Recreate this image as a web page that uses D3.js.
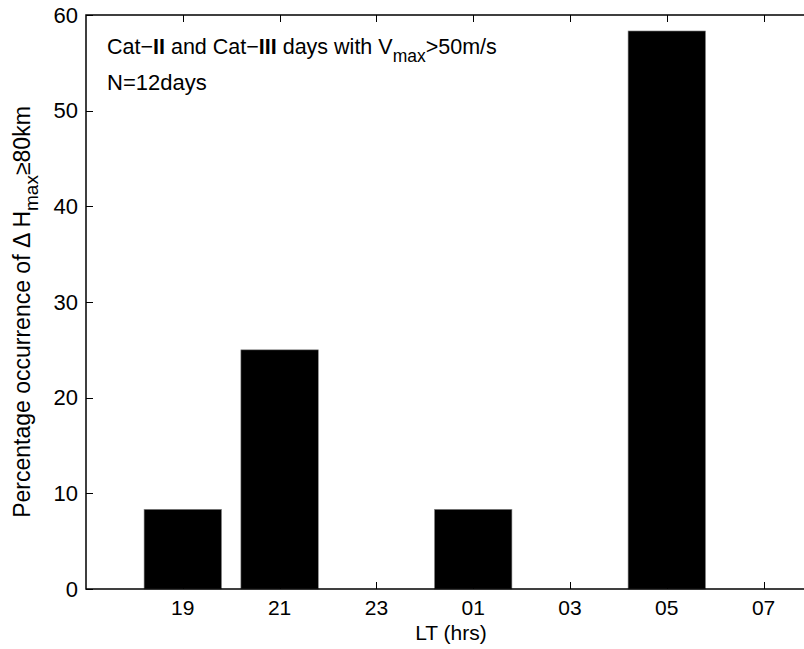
<!DOCTYPE html>
<html>
<head>
<meta charset="utf-8">
<script src="https://cdn.jsdelivr.net/npm/d3@7"></script>
<style>
body { margin: 0; background: #fff; }
svg { display: block; font-family: 'Liberation Sans', Arial, sans-serif; }
</style>
</head>
<body>
<svg id="chart" width="804" height="649"></svg>
<script>
// hours (LT) and percentage occurrence
var hours = ['19', '21', '23', '01', '03', '05', '07'];
var percent = [8.33, 25, 0, 8.33, 0, 58.33, 0];
var yTicks = [0, 10, 20, 30, 40, 50, 60];

var svg = d3.select('#chart'),
    axLeft = 86, axTop = 15, axBottom = 589,
    step = 96.8,
    axRight = axLeft + step * (hours.length + 1);

var x = d3.scaleLinear()
    .domain([0, hours.length + 1])
    .range([axLeft, axRight]);

var y = d3.scaleLinear()
    .domain([0, 60])
    .range([axBottom, axTop]);

var barW = step * 0.8;

svg.append('g')
    .selectAll('rect')
    .data(percent)
    .enter().append('rect')
    .attr('x', function(d, i) { return x(i + 1) - barW / 2; })
    .attr('y', function(d) { return y(d); })
    .attr('width', barW)
    .attr('height', function(d) { return axBottom - y(d); })
    .attr('fill', '#000')
    .attr('stroke', '#888')
    .attr('stroke-width', 0.6);

// box
svg.append('rect')
    .attr('x', axLeft)
    .attr('y', axTop)
    .attr('width', axRight - axLeft)
    .attr('height', axBottom - axTop)
    .attr('fill', 'none')
    .attr('stroke', '#000')
    .attr('stroke-width', 1.5);

// x ticks (bottom and top, inward)
var xt = svg.append('g');
hours.forEach(function(h, i) {
    var px = Math.round(x(i + 1)) + 0.5;
    xt.append('line').attr('x1', px).attr('x2', px).attr('y1', axBottom).attr('y2', axBottom - 7)
        .attr('stroke', '#000');
    xt.append('line').attr('x1', px).attr('x2', px).attr('y1', axTop).attr('y2', axTop + 7)
        .attr('stroke', '#000');
    xt.append('text')
        .attr('x', x(i + 1))
        .attr('y', axBottom + 26)
        .attr('text-anchor', 'middle')
        .attr('font-size', 21)
        .text(h);
});

// y ticks
var yt = svg.append('g');
yTicks.forEach(function(t) {
    var py = Math.round(y(t)) + 0.5;
    yt.append('line').attr('x1', axLeft).attr('x2', axLeft + 7).attr('y1', py).attr('y2', py)
        .attr('stroke', '#000');
    yt.append('text')
        .attr('x', axLeft - 8)
        .attr('y', y(t))
        .attr('dy', '0.35em')
        .attr('text-anchor', 'end')
        .attr('font-size', 22)
        .text(t);
});

// axis labels
svg.append('text')
    .attr('x', 451)
    .attr('y', 640)
    .attr('text-anchor', 'middle')
    .attr('font-size', 21)
    .text('LT (hrs)');

var yl = svg.append('text')
    .attr('transform', 'translate(30,312) rotate(-90)')
    .attr('text-anchor', 'middle')
    .attr('font-size', 23);
yl.append('tspan').text('Percentage occurrence of \u0394 H');
yl.append('tspan').attr('dy', 8).attr('font-size', 19).text('max');
yl.append('tspan').attr('dy', -8).text('\u226580km');

// annotations
var a1 = svg.append('text')
    .attr('x', 107)
    .attr('y', 54)
    .attr('font-size', 21.5);
a1.append('tspan').text('Cat\u2212');
a1.append('tspan').attr('font-weight', 'bold').text('II');
a1.append('tspan').text(' and Cat\u2212');
a1.append('tspan').attr('font-weight', 'bold').text('III');
a1.append('tspan').text(' days with V');
a1.append('tspan').attr('dy', 8).attr('font-size', 17.5).text('max');
a1.append('tspan').attr('dy', -8).text('>50m/s');

svg.append('text')
    .attr('x', 107)
    .attr('y', 90)
    .attr('font-size', 22)
    .text('N=12days');
</script>
</body>
</html>
